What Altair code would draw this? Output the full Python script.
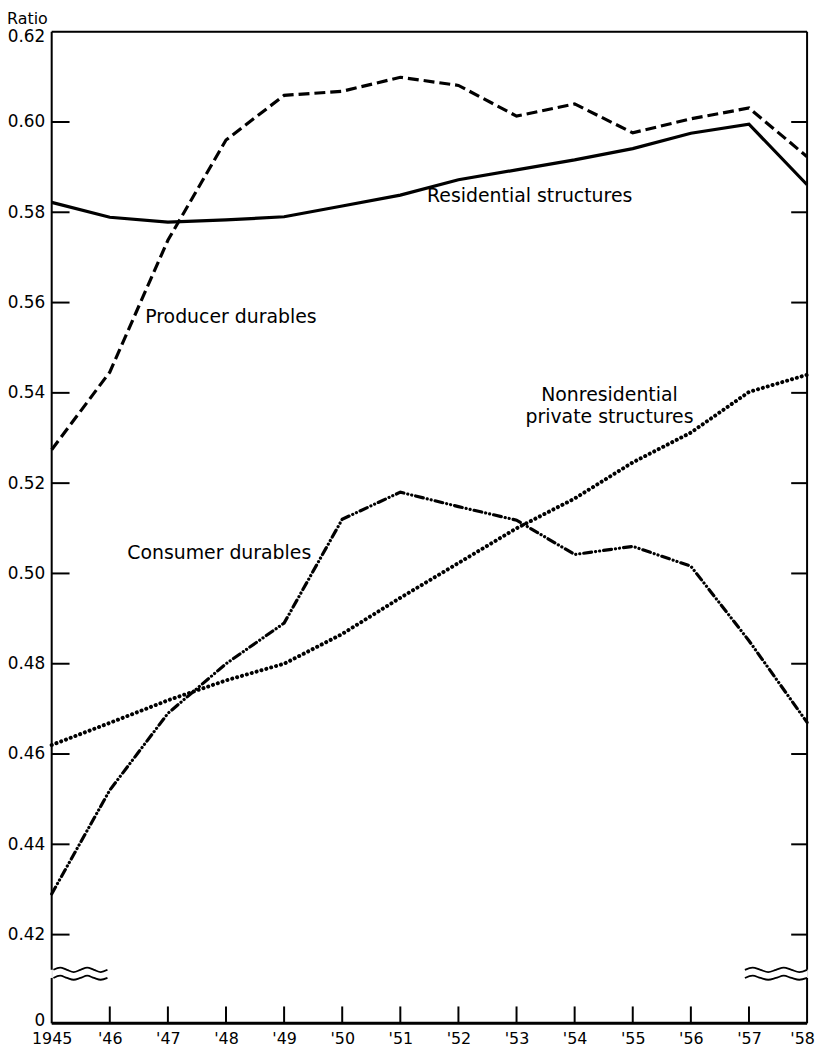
import json
import altair as alt
import pandas as pd

# ---------------- data ----------------
years = list(range(1945, 1959))
residential = [0.5822, 0.5789, 0.5778, 0.5783, 0.5790, 0.5814, 0.5838,
               0.5872, 0.5894, 0.5916, 0.5941, 0.5975, 0.5995, 0.5861]
producer = [0.5274, 0.5446, 0.5738, 0.5960, 0.6059, 0.6068, 0.6099,
            0.6081, 0.6013, 0.6040, 0.5976, 0.6007, 0.6031, 0.5923]
consumer = [0.4290, 0.4520, 0.4690, 0.4800, 0.4890, 0.5120, 0.5180,
            0.5148, 0.5118, 0.5042, 0.5060, 0.5016, 0.4851, 0.4670]
nonresidential = [0.4620, 0.4669, 0.4719, 0.4763, 0.4800, 0.4866, 0.4946,
                  0.5023, 0.5100, 0.5166, 0.5246, 0.5312, 0.5402, 0.5440]

y_tick_values = [0, 0.42, 0.44, 0.46, 0.48, 0.50, 0.52, 0.54, 0.56, 0.58, 0.60, 0.62]
x_tick_labels = ["1945", "'46", "'47", "'48", "'49", "'50", "'51",
                 "'52", "'53", "'54", "'55", "'56", "'57", "'58"]
y_axis_title = "Ratio"

label_text = ["Residential structures", "Producer durables", "Nonresidential",
              "private structures", "Consumer durables"]
label_year = [1951.46, 1946.61, 1954.60, 1954.60, 1946.30]
label_value = [0.5836, 0.5567, 0.5396, 0.5347, 0.5046]
label_align = ["left", "left", "center", "center", "left"]

# axis-break decoration
break_shape = [0, 1, 0, -1, 0, 1, 0, -1, 0]
break_upper = 0.4122
break_lower = 0.4104
break_amp = 0.0005

# ---------------- layout ----------------
W, H = 761, 999
FONT = "DejaVu Sans"
y_scale = alt.Scale(domain=[0, 0.41, 0.62], range=[H, 955.1, 0], nice=False, zero=False)
x_scale = alt.Scale(domain=[1945, 1958], nice=False, zero=False)

df = pd.DataFrame({"year": years, "residential": residential, "producer": producer,
                   "consumer": consumer, "nonresidential": nonresidential})

label_expr_x = "[" + ",".join(json.dumps(s) for s in x_tick_labels) + "][datum.value - 1945]"

x_enc = alt.X("year:Q", scale=x_scale,
              axis=alt.Axis(values=years, labelExpr=label_expr_x, title=None, grid=False,
                            domain=False, ticks=False, tickSize=0, labelPadding=7,
                            labelFontSize=16, labelFont=FONT, labelColor="black",
                            labelFlush=False, labelOverlap=False, labelBound=False,
                            labelOffset={"condition": {"test": "datum.value == 1958", "value": -5},
                                         "value": 0}))


def y_enc(field):
    return alt.Y(f"{field}:Q", scale=y_scale,
                 axis=alt.Axis(values=y_tick_values,
                               labelExpr="datum.value == 0 ? '0' : format(datum.value, '.2f')",
                               grid=False, domain=False, ticks=False, tickSize=0,
                               labelPadding=7, labelFontSize=17, labelFont=FONT,
                               labelColor="black", labelOverlap=False, labelBound=False,
                               labelFlush=False,
                               labelOffset={"condition": [
                                   {"test": "datum.value == 0", "value": -3},
                                   {"test": "datum.value > 0.615", "value": 5}],
                                   "value": 0},
                               title=None))


base = alt.Chart(df)
line_res = base.mark_line(color="black", strokeWidth=3.2).encode(x=x_enc, y=y_enc("residential"))
line_prod = base.mark_line(color="black", strokeWidth=3.2, strokeDash=[11, 5]).encode(
    x=alt.X("year:Q", scale=x_scale), y=alt.Y("producer:Q", scale=y_scale))
line_cons = base.mark_line(color="black", strokeWidth=3.2, strokeCap="round",
                           strokeDash=[8, 4, 0.1, 4, 0.1, 4]).encode(
    x=alt.X("year:Q", scale=x_scale), y=alt.Y("consumer:Q", scale=y_scale))
line_nonres = base.mark_line(color="black", strokeWidth=4, strokeCap="round",
                             strokeDash=[0.1, 5]).encode(
    x=alt.X("year:Q", scale=x_scale), y=alt.Y("nonresidential:Q", scale=y_scale))

# frame (with gaps at the axis break)
frame_df = pd.DataFrame({
    "x": [1945, 1945, 1945, 1958, 1958, 1945],
    "x2": [1958, 1945, 1945, 1958, 1958, 1958],
    "y": [0.62, 0.62, break_lower, 0.62, break_lower, 0.0],
    "y2": [0.62, break_upper, 0.0, break_upper, 0.0, 0.0],
    "w": [2, 2, 2, 2, 2, 3],
})
frame = alt.Chart(frame_df).mark_rule(color="black").encode(
    x=alt.X("x:Q", scale=x_scale), x2="x2:Q",
    y=alt.Y("y:Q", scale=y_scale), y2="y2:Q",
    strokeWidth=alt.StrokeWidth("w:Q", scale=None))

# inward ticks on left and right
tick_vals = [v for v in y_tick_values if 0 < v < 0.62]
tick_len_years = 18 / (W / 13)
ticks_lr = pd.DataFrame({
    "x": [1945] * len(tick_vals) + [1958 - 16 / (W / 13)] * len(tick_vals),
    "x2": [1945 + tick_len_years] * len(tick_vals) + [1958] * len(tick_vals),
    "y": tick_vals + tick_vals,
})
yticks = alt.Chart(ticks_lr).mark_rule(color="black", strokeWidth=2).encode(
    x=alt.X("x:Q", scale=x_scale), x2="x2:Q", y=alt.Y("y:Q", scale=y_scale))

xt = pd.DataFrame({"year": years[1:-1]})
xticks = alt.Chart(xt).mark_rule(color="black", strokeWidth=2).encode(
    x=alt.X("year:Q", scale=x_scale), y=alt.value(H), y2=alt.value(H - 17))

# wavy break marks
n = len(break_shape)
rows = []
for side, (x0, x1) in {"L": (1945.03, 1945.96), "R": (1956.93, 1958.0)}.items():
    for lvl, b in (("u", break_upper), ("l", break_lower)):
        for i, s in enumerate(break_shape):
            rows.append({"g": side + lvl, "x": x0 + (x1 - x0) * i / (n - 1),
                         "y": b + break_amp * s, "o": i})
waves = alt.Chart(pd.DataFrame(rows)).mark_line(
    color="black", strokeWidth=1.8, interpolate="cardinal").encode(
    x=alt.X("x:Q", scale=x_scale), y=alt.Y("y:Q", scale=y_scale),
    detail="g:N", order="o:Q")

labels_df = pd.DataFrame({"text": label_text, "x": label_year, "y": label_value,
                          "align": label_align})
labels_left = alt.Chart(labels_df[labels_df["align"] == "left"]).mark_text(
    align="left", baseline="middle", font=FONT, fontSize=19, color="black").encode(
    x=alt.X("x:Q", scale=x_scale), y=alt.Y("y:Q", scale=y_scale), text="text:N")
labels_center = alt.Chart(labels_df[labels_df["align"] == "center"]).mark_text(
    align="center", baseline="middle", font=FONT, fontSize=19, color="black").encode(
    x=alt.X("x:Q", scale=x_scale), y=alt.Y("y:Q", scale=y_scale), text="text:N")

ratio_title = alt.Chart(pd.DataFrame({"t": [y_axis_title]})).mark_text(
    align="left", baseline="middle", font=FONT, fontSize=16, color="black").encode(
    x=alt.value(-45), y=alt.value(-13), text="t:N")

chart = alt.layer(
    line_res, line_prod, line_cons, line_nonres, frame, yticks, xticks, waves,
    labels_left, labels_center, ratio_title
).properties(
    width=W, height=H,
    autosize=alt.AutoSizeParams(type="none"),
    padding={"left": 44, "top": 20, "right": 10, "bottom": 23},
).configure_view(stroke=None).configure(background="white")

chart.save("out.html", embed_options={"renderer": "svg", "actions": False})
